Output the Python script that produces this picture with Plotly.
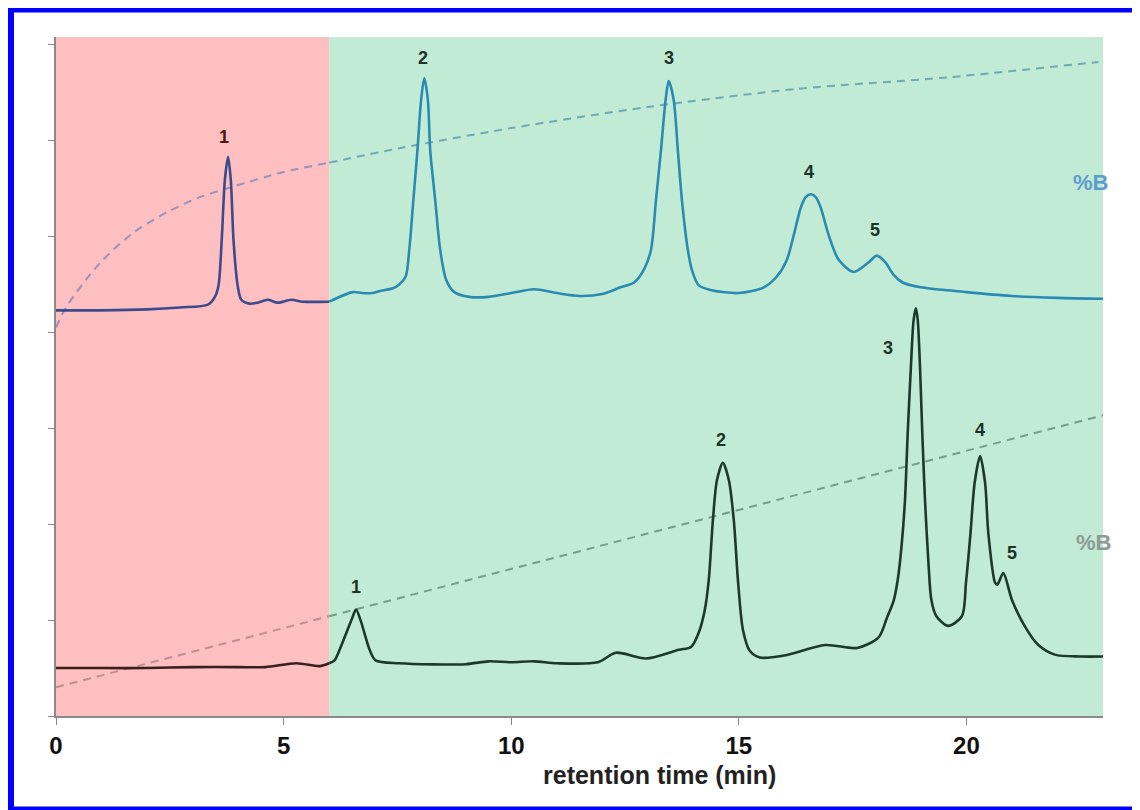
import plotly.graph_objects as go

# upper chromatogram (time in min, signal in arbitrary units)
upper_t = [0.0, 1.0, 2.0, 2.72, 3.34, 3.49, 3.57, 3.64, 3.71, 3.78, 3.84, 3.90, 3.99,
           4.07, 4.25, 4.43, 4.65, 4.87, 5.17, 5.42, 6.0, 6.52, 6.72, 6.95, 7.1, 7.4,
           7.54, 7.68, 7.76, 7.85, 7.94, 8.02, 8.09, 8.17, 8.22, 8.33, 8.44, 8.57, 8.75,
           9.08, 9.5, 10.0, 10.5, 11.0, 11.5, 12.0, 12.4, 12.70, 12.92, 13.07, 13.18,
           13.29, 13.39, 13.46, 13.57, 13.66, 13.75, 13.88, 13.97, 14.12, 14.4, 15.0,
           15.55, 15.83, 16.05, 16.21, 16.36, 16.47, 16.58, 16.69, 16.80, 16.97, 17.19,
           17.52, 17.85, 18.03, 18.22, 18.40, 18.6, 19.0, 20.0, 21.0, 22.0, 23.05]
upper_s = [4.23, 4.23, 4.24, 4.26, 4.29, 4.37, 4.49, 4.96, 5.59, 5.83, 5.59, 4.96, 4.49,
           4.34, 4.30, 4.31, 4.34, 4.31, 4.34, 4.32, 4.32, 4.42, 4.41, 4.41, 4.43, 4.46,
           4.50, 4.58, 4.86, 5.38, 5.90, 6.42, 6.65, 6.42, 5.90, 5.38, 4.86, 4.55, 4.42,
           4.37, 4.37, 4.41, 4.45, 4.41, 4.38, 4.40, 4.47, 4.52, 4.66, 4.86, 5.38,
           5.90, 6.42, 6.62, 6.42, 5.90, 5.38, 4.86, 4.65, 4.49, 4.44, 4.41,
           4.47, 4.58, 4.75, 5.02, 5.30, 5.41, 5.44, 5.41, 5.30, 5.02, 4.76,
           4.63, 4.73, 4.80, 4.73, 4.60, 4.52, 4.47, 4.42, 4.38, 4.36, 4.35]

# lower chromatogram
lower_t = [0.0, 1.0, 2.0, 3.0, 4.0, 4.6, 5.28, 5.79, 6.0, 6.12, 6.23, 6.49, 6.59, 6.69,
           6.89, 7.02, 7.54, 9.0, 9.5, 10.0, 10.5, 11.0, 11.9, 12.3, 12.96, 13.68,
           13.95, 14.12, 14.25, 14.34, 14.43, 14.52, 14.65, 14.78, 14.89, 14.98, 15.09,
           15.24, 15.46, 16.0, 16.9, 17.6, 18.07, 18.25, 18.40, 18.50, 18.58,
           18.65, 18.71, 18.78, 18.84, 18.89, 18.93, 18.98, 19.03, 19.09, 19.17, 19.23,
           19.34, 19.6, 19.9, 19.99, 20.09, 20.18, 20.30, 20.41, 20.48, 20.63, 20.68,
           20.81, 21.0, 21.29, 21.58, 21.94, 22.5, 23.05]
lower_s = [0.50, 0.50, 0.50, 0.51, 0.51, 0.51, 0.55, 0.52, 0.55, 0.58, 0.69, 1.00, 1.11,
           1.00, 0.69, 0.58, 0.55, 0.54, 0.57, 0.56, 0.57, 0.55, 0.56, 0.66, 0.60, 0.69,
           0.72, 0.87, 1.10, 1.42, 2.04, 2.46, 2.64, 2.46, 2.04, 1.42, 0.90,
           0.68, 0.61, 0.63, 0.74, 0.71, 0.82, 1.02, 1.20, 1.45, 1.80,
           2.25, 2.95, 3.64, 4.13, 4.25, 4.13, 3.64, 2.95, 2.25, 1.56, 1.21,
           1.04, 0.94, 1.04, 1.39, 1.91, 2.43, 2.71, 2.43, 1.91, 1.39, 1.37,
           1.49, 1.21, 0.93, 0.74, 0.64, 0.62, 0.62]

# %B gradients (dashed)
grad_up_t = [0.0, 0.23, 0.96, 1.7, 2.43, 3.16, 3.89, 4.98, 6.0, 7.54, 10.0, 13.0, 16.3, 19.6, 22.9]
grad_up_s = [4.05, 4.27, 4.72, 5.04, 5.25, 5.41, 5.52, 5.67, 5.77, 5.92, 6.13, 6.35, 6.54, 6.66, 6.82]
grad_lo_t = [0.0, 6.0, 23.04]
grad_lo_s = [0.30, 1.04, 3.14]

# peak labels
up_lab_t = [3.68, 8.07, 13.46, 16.54, 18.0]
up_lab_s = [6.04, 6.86, 6.86, 5.67, 5.07]
lo_lab_t = [6.58, 14.6, 18.27, 20.3, 21.0]
lo_lab_s = [1.35, 2.88, 3.84, 2.98, 1.70]
peak_names = ["1", "2", "3", "4", "5"]

SPLIT = 6.0
FONT = "Liberation Sans, Arial"

fig = go.Figure()


def add_line(t, s, c_red, c_green, width, dash=None, shape="spline"):
    # same curve, coloured differently over the red and the green zone
    left = [(a, b) for a, b in zip(t, s) if a <= SPLIT]
    right = [(a, b) for a, b in zip(t, s) if a >= SPLIT]
    for seg, col in ((left, c_red), (right, c_green)):
        fig.add_trace(go.Scatter(
            x=[p[0] for p in seg], y=[p[1] for p in seg], mode="lines",
            line=dict(color=col, width=width, dash=dash, shape=shape, smoothing=0.8),
            hoverinfo="skip", showlegend=False))


add_line(grad_up_t, grad_up_s, "#9a93bb", "#6fa8b6", 2, dash="8px,6px")
add_line(grad_lo_t, grad_lo_s, "#bf8e92", "#719f8a", 2, dash="8px,6px", shape="linear")
add_line(upper_t, upper_s, "#3d4a8c", "#2a8bb2", 2.6)
add_line(lower_t, lower_s, "#3b1f1f", "#1b3a2a", 2.6)

# shaded regions
fig.add_shape(type="rect", xref="x", yref="y", x0=0, x1=SPLIT, y0=0, y1=7.08,
              fillcolor="#fdbfbf", line_width=0, layer="below")
fig.add_shape(type="rect", xref="x", yref="y", x0=SPLIT, x1=23, y0=0, y1=7.08,
              fillcolor="#c2ebd6", line_width=0, layer="below")

# blue frame (right side falls outside the picture)
fig.add_shape(type="rect", xref="paper", yref="paper",
              x0=-0.043, x1=1.045, y0=-0.1377, y1=1.0405,
              line=dict(color="#0000ff", width=6), layer="above")

for i, name in enumerate(peak_names):
    col = "#4a1515" if up_lab_t[i] < SPLIT else "#1c3328"
    fig.add_annotation(x=up_lab_t[i], y=up_lab_s[i], text="<b>%s</b>" % name,
                       showarrow=False, font=dict(family=FONT, size=18, color=col))
    fig.add_annotation(x=lo_lab_t[i], y=lo_lab_s[i], text="<b>%s</b>" % name,
                       showarrow=False, font=dict(family=FONT, size=18, color="#1c3328"))

# %B arrows
fig.add_annotation(x=23.27, y=6.82, ax=23.27, ay=4.15, axref="x", ayref="y",
                   text="", showarrow=True, arrowhead=2, arrowsize=1.2,
                   arrowwidth=1.6, arrowcolor="#7c9fd2")
fig.add_annotation(x=23.31, y=3.09, ax=23.31, ay=0.43, axref="x", ayref="y",
                   text="", showarrow=True, arrowhead=2, arrowsize=1.2,
                   arrowwidth=1.6, arrowcolor="#a9a9a9")
fig.add_annotation(x=22.72, y=5.56, text="<b>%B</b>", showarrow=False,
                   font=dict(family=FONT, size=22, color="#5e9ccb"))
fig.add_annotation(x=22.79, y=1.81, text="<b>%B</b>", showarrow=False,
                   font=dict(family=FONT, size=22, color="#8c9b94"))

fig.add_annotation(x=13.25, y=-0.0869, yref="paper", yanchor="middle",
                   text="<b>retention time (min)</b>", showarrow=False,
                   font=dict(family=FONT, size=25, color="#222222"))

fig.update_layout(
    width=1132, height=802,
    margin=dict(l=48, r=37, t=29, b=94),
    plot_bgcolor="white", paper_bgcolor="white",
    showlegend=False,
    xaxis=dict(range=[0, 23], tickvals=[0, 5, 10, 15, 20],
               ticktext=["<b>0</b>", "<b>5</b>", "<b>10</b>", "<b>15</b>", "<b>20</b>"],
               ticks="outside", ticklen=7, tickcolor="#8a8a8a", showgrid=False,
               zeroline=False, showline=True, linecolor="#8a8a8a", linewidth=2,
               tickfont=dict(family=FONT, size=24, color="#111111")),
    yaxis=dict(range=[0, 7.08], tickvals=[0, 1, 2, 3, 4, 5, 6, 7], showticklabels=False,
               ticks="outside", ticklen=6, tickcolor="#8a8a8a", showgrid=False,
               zeroline=False, showline=True, linecolor="#8a8a8a", linewidth=1.5),
)

fig.write_html("out.html")
